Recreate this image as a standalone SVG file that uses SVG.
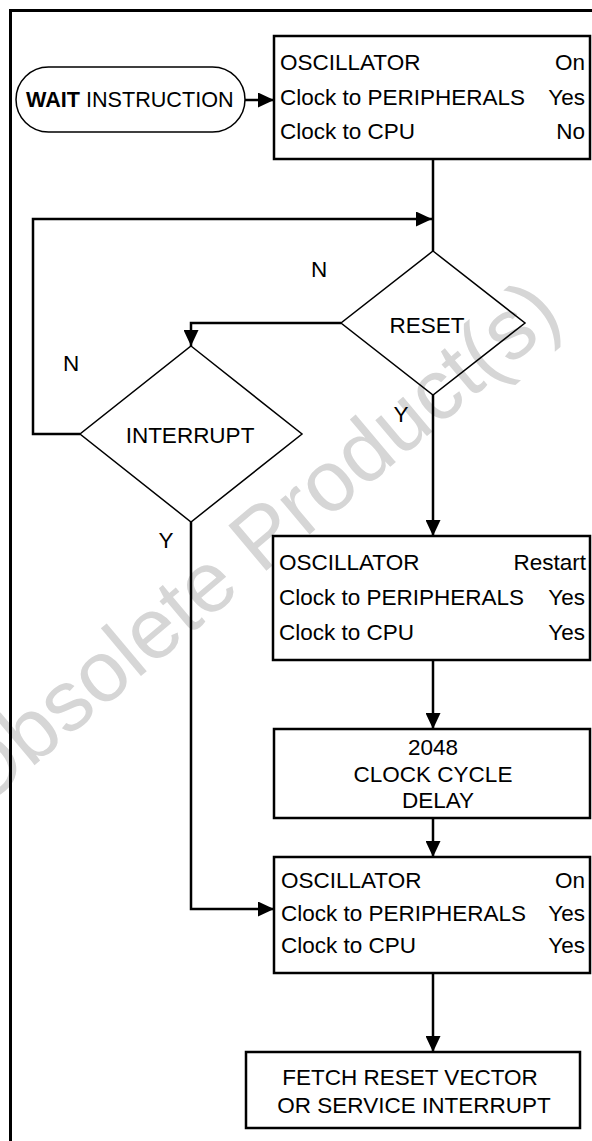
<svg xmlns="http://www.w3.org/2000/svg" width="592" height="1141" viewBox="0 0 592 1141">
<style>
text{font-family:"Liberation Sans",Arial,Helvetica,sans-serif;font-size:22.5px;fill:#000}
.box{fill:none;stroke:#000;stroke-width:2.5}
.thin{fill:none;stroke:#000;stroke-width:1.5}
.conn{fill:none;stroke:#000;stroke-width:2.5}
.end{text-anchor:end}
.mid{text-anchor:middle}
.wm{font-size:86px;fill:#d6d6d6;text-anchor:middle}
</style>
<defs>
<marker id="arr" markerUnits="userSpaceOnUse" viewBox="0 0 16 15" refX="16" refY="7.5" markerWidth="16" markerHeight="15" orient="auto">
<path d="M0,0 L16,7.5 L0,15 z" fill="#000"/>
</marker>
</defs>
<rect width="592" height="1141" fill="#fff"/>
<text class="wm" transform="translate(272,566) rotate(-40)">Obsolete Product(s)</text>
<path d="M10.5,1141 V10.5 H592" fill="none" stroke="#000" stroke-width="3"/>

<g id="wait">
<rect class="thin" x="16" y="67" width="229" height="65" rx="32.5" ry="32.5"/>
<text x="26" y="107" style="font-size:21.6px"><tspan font-weight="bold">WAIT</tspan> INSTRUCTION</text>
</g>

<g id="box1">
<rect class="box" x="274" y="36" width="316" height="123"/>
<text x="280" y="70">OSCILLATOR</text><text class="end" x="585" y="70">On</text>
<text x="280" y="105">Clock to PERIPHERALS</text><text class="end" x="585" y="105">Yes</text>
<text x="280" y="139">Clock to CPU</text><text class="end" x="585" y="139">No</text>
</g>

<g id="reset">
<polygon class="thin" points="433,251 525,323 433,395 341,323"/>
<text class="mid" x="427" y="333">RESET</text>
</g>

<g id="interrupt">
<polygon class="thin" points="191,346 302,434 191,522 80,434"/>
<text class="mid" x="190" y="443">INTERRUPT</text>
</g>

<g id="box2">
<rect class="box" x="273" y="536" width="317" height="124"/>
<text x="279" y="570">OSCILLATOR</text><text class="end" x="586" y="570">Restart</text>
<text x="279" y="605">Clock to PERIPHERALS</text><text class="end" x="585" y="605">Yes</text>
<text x="279" y="640">Clock to CPU</text><text class="end" x="585" y="640">Yes</text>
</g>

<g id="box3">
<rect class="box" x="274" y="729" width="316" height="89"/>
<text class="mid" x="433" y="755">2048</text>
<text class="mid" x="433" y="782">CLOCK CYCLE</text>
<text class="mid" x="438" y="808">DELAY</text>
</g>

<g id="box4">
<rect class="box" x="274" y="857" width="316" height="116"/>
<text x="281" y="888">OSCILLATOR</text><text class="end" x="585" y="888">On</text>
<text x="281" y="921">Clock to PERIPHERALS</text><text class="end" x="585" y="921">Yes</text>
<text x="281" y="953">Clock to CPU</text><text class="end" x="585" y="953">Yes</text>
</g>

<g id="box5">
<rect class="box" x="246" y="1052" width="334" height="76"/>
<text class="mid" x="410" y="1085">FETCH RESET VECTOR</text>
<text class="mid" x="414" y="1113">OR SERVICE INTERRUPT</text>
</g>

<g id="connectors">
<path class="conn" d="M245,100 H274" marker-end="url(#arr)"/>
<path class="conn" d="M433,160 V251"/>
<path class="conn" d="M80,434 H33 V219 H432" marker-end="url(#arr)"/>
<path class="conn" d="M341,323 H191 V346" marker-end="url(#arr)"/>
<path class="conn" d="M433,395 V536" marker-end="url(#arr)"/>
<path class="conn" d="M433,660 V729" marker-end="url(#arr)"/>
<path class="conn" d="M433,818 V857" marker-end="url(#arr)"/>
<path class="conn" d="M191,522 V909 H274" marker-end="url(#arr)"/>
<path class="conn" d="M433,973 V1052" marker-end="url(#arr)"/>
</g>

<g id="labels">
<text class="mid" x="319" y="277">N</text>
<text class="mid" x="71" y="371">N</text>
<text class="mid" x="401" y="422">Y</text>
<text class="mid" x="166" y="548">Y</text>
</g>
</svg>
